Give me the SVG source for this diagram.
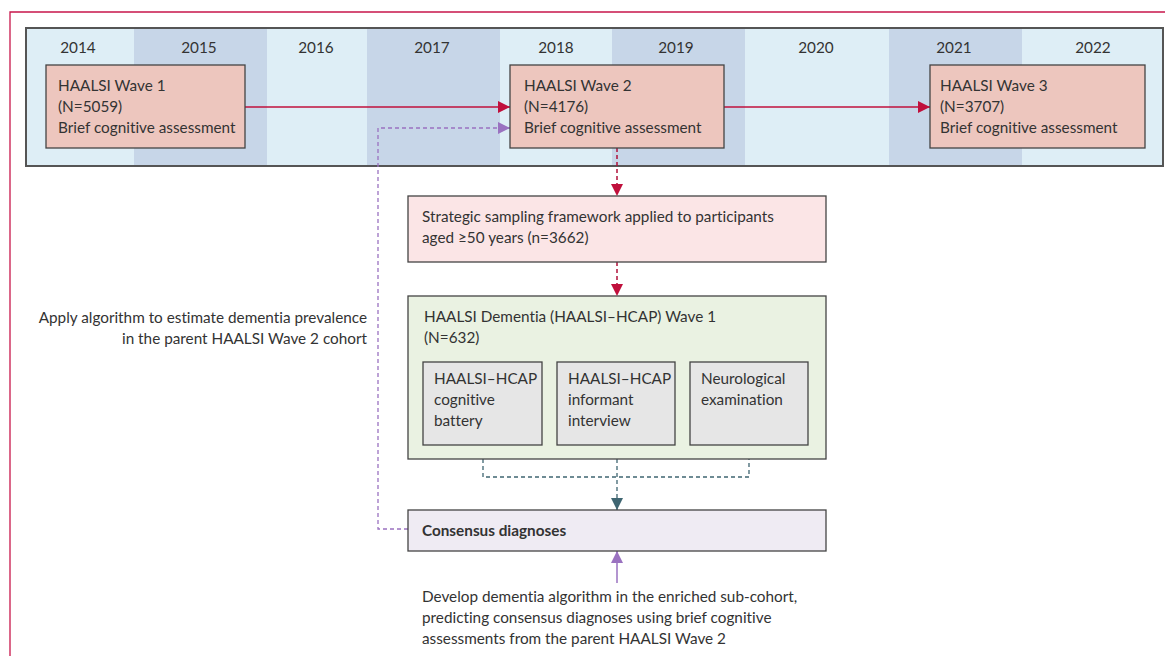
<svg xmlns="http://www.w3.org/2000/svg" width="1165" height="656" viewBox="0 0 1165 656">
<style>
text{font-family:Lato,"Open Sans","Liberation Sans",sans-serif;font-size:15.3px;fill:#333;font-variant-ligatures:none}
.yr{text-anchor:middle}
.light{fill:#deeef6}
.dark{fill:#c7d6e8}
.box{stroke:#444;stroke-width:1.3}
.wave{fill:#edc6be}
.red{stroke:#c0103c;stroke-width:1.5;fill:none}
.reddash{stroke:#b0103a;stroke-width:1.5;fill:none;stroke-dasharray:4 3}
.purpdash{stroke:#9a72c0;stroke-width:1.3;fill:none;stroke-dasharray:4 3}
.tealdash{stroke:#3f6672;stroke-width:1.3;fill:none;stroke-dasharray:4 3}
</style>
<defs>
<marker id="mr" viewBox="0 0 10 10" refX="10" refY="5" markerWidth="12" markerHeight="12" markerUnits="userSpaceOnUse" orient="auto"><path d="M0,0 L10,5 L0,10 Z" fill="#c0103c"/></marker>
<marker id="mp" viewBox="0 0 10 10" refX="10" refY="5" markerWidth="12" markerHeight="12" markerUnits="userSpaceOnUse" orient="auto"><path d="M0,0 L10,5 L0,10 Z" fill="#9a72c0"/></marker>
<marker id="mt" viewBox="0 0 10 10" refX="10" refY="5" markerWidth="12" markerHeight="12" markerUnits="userSpaceOnUse" orient="auto"><path d="M0,0 L10,5 L0,10 Z" fill="#3f6672"/></marker>
</defs>
<rect x="0" y="0" width="1165" height="656" fill="#fff"/>
<path d="M10,656 V12 H1165" fill="none" stroke="#c8164b" stroke-width="1.3"/>
<g id="timeline">
<rect class="light" x="26" y="28" width="108" height="138"/>
<rect class="dark" x="134" y="28" width="133" height="138"/>
<rect class="light" x="267" y="28" width="100" height="138"/>
<rect class="dark" x="367" y="28" width="133" height="138"/>
<rect class="light" x="500" y="28" width="112" height="138"/>
<rect class="dark" x="612" y="28" width="133" height="138"/>
<rect class="light" x="745" y="28" width="144" height="138"/>
<rect class="dark" x="889" y="28" width="133" height="138"/>
<rect class="light" x="1022" y="28" width="141" height="138"/>
<rect x="26" y="28" width="1137" height="138" fill="none" stroke="#555" stroke-width="2"/>
<text class="yr" x="78" y="53">2014</text>
<text class="yr" x="199" y="53">2015</text>
<text class="yr" x="316" y="53">2016</text>
<text class="yr" x="432" y="53">2017</text>
<text class="yr" x="556" y="53">2018</text>
<text class="yr" x="676" y="53">2019</text>
<text class="yr" x="816" y="53">2020</text>
<text class="yr" x="954" y="53">2021</text>
<text class="yr" x="1093" y="53">2022</text>
</g>
<g id="connectors">
<path class="red" d="M245,107 H510" marker-end="url(#mr)"/>
<path class="red" d="M724,107 H930" marker-end="url(#mr)"/>
<path class="purpdash" d="M408,529 H378 V128 H510" marker-end="url(#mp)"/>
<path class="reddash" d="M617,148 V196" marker-end="url(#mr)"/>
<path class="reddash" d="M617,262 V296" marker-end="url(#mr)"/>
<path class="tealdash" d="M483,445 V477 H749 V445 M617,445 V510"/>
<path d="M617,490 V510" stroke="none" fill="none" marker-end="url(#mt)"/>
<path d="M617,583 V551" stroke="#9a72c0" stroke-width="1.5" fill="none" marker-end="url(#mp)"/>
</g>
<g id="wave1">
<rect class="box wave" x="46" y="65" width="199" height="83"/>
<text x="58" y="91">HAALSI Wave 1</text>
<text x="58" y="112">(N=5059)</text>
<text x="58" y="133">Brief cognitive assessment</text>
</g>
<g id="wave2">
<rect class="box wave" x="510" y="65" width="214" height="83"/>
<text x="524" y="91">HAALSI Wave 2</text>
<text x="524" y="112">(N=4176)</text>
<text x="524" y="133">Brief cognitive assessment</text>
</g>
<g id="wave3">
<rect class="box wave" x="930" y="65" width="215" height="83"/>
<text x="940" y="91">HAALSI Wave 3</text>
<text x="940" y="112">(N=3707)</text>
<text x="940" y="133">Brief cognitive assessment</text>
</g>
<g id="sampling">
<rect class="box" fill="#fbe5e6" x="408" y="196" width="418" height="66"/>
<text x="422" y="222">Strategic sampling framework applied to participants</text>
<text x="422" y="243">aged ≥50 years (n=3662)</text>
</g>
<g id="hcap">
<rect class="box" fill="#eaf2e2" x="408" y="296" width="418" height="163"/>
<text x="424" y="322">HAALSI Dementia (HAALSI–HCAP) Wave 1</text>
<text x="424" y="343">(N=632)</text>
</g>
<g id="battery">
<rect class="box" fill="#e6e6e6" x="423" y="362" width="119" height="83"/>
<text x="434" y="384">HAALSI–HCAP</text>
<text x="434" y="405">cognitive</text>
<text x="434" y="426">battery</text>
</g>
<g id="informant">
<rect class="box" fill="#e6e6e6" x="557" y="362" width="118" height="83"/>
<text x="568" y="384">HAALSI–HCAP</text>
<text x="568" y="405">informant</text>
<text x="568" y="426">interview</text>
</g>
<g id="neuro">
<rect class="box" fill="#e6e6e6" x="690" y="362" width="118" height="83"/>
<text x="701" y="384">Neurological</text>
<text x="701" y="405">examination</text>
</g>
<g id="consensus">
<rect class="box" fill="#efebf3" x="408" y="510" width="418" height="41"/>
<text x="422" y="536" font-weight="bold">Consensus diagnoses</text>
</g>
<g id="apply-label">
<text x="367" y="323" text-anchor="end">Apply algorithm to estimate dementia prevalence</text>
<text x="367" y="344" text-anchor="end">in the parent HAALSI Wave 2 cohort</text>
</g>
<g id="develop-label">
<text x="422" y="602">Develop dementia algorithm in the enriched sub-cohort,</text>
<text x="422" y="623">predicting consensus diagnoses using brief cognitive</text>
<text x="422" y="644">assessments from the parent HAALSI Wave 2</text>
</g>
</svg>
